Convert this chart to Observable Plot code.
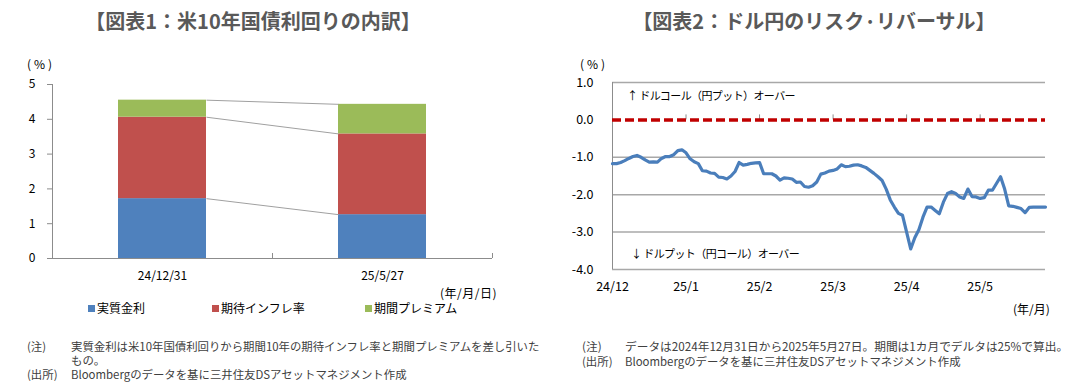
<!DOCTYPE html>
<html>
<head>
<meta charset="utf-8">
<script src="https://cdn.jsdelivr.net/npm/d3@7"></script>
<script src="https://cdn.jsdelivr.net/npm/@observablehq/plot@0.6"></script>
<style>
  html, body { margin: 0; padding: 0; background: #fff; }
  body { width: 1084px; height: 391px; position: relative; overflow: hidden;
         font-family: "Noto Sans CJK JP", "Noto Sans", sans-serif; color: #000; }
  .abs { position: absolute; white-space: nowrap; }
  .title { font-size: 20px; font-weight: bold; color: #595959; transform: translateX(-50%); top: 6px; }
  .lbl { font-size: 12px; color: #000; }
  .pct { letter-spacing: 3px; }
  .ann { font-size: 11px; letter-spacing: -0.6px; color: #000; }
  .note { font-size: 11.4px; color: #404040; line-height: 14px; }
  .sq { display: inline-block; width: 7px; height: 7px; margin-right: 2px; vertical-align: 1px; }
  #left, #right { position: absolute; top: 50px; }
  #left { left: 0; } #right { left: 560px; }
</style>
</head>
<body>
<div class="abs title" style="left:253px;">【図表1：米10年国債利回りの内訳】</div>
<div class="abs title" style="left:814px;">【図表2：ドル円のリスク·リバーサル】</div>

<div id="left"></div>
<div id="right"></div>

<div class="abs lbl pct" style="left:27px;top:55px;">(%)</div>
<div class="abs lbl" style="left:440px;top:284px;letter-spacing:0.5px;">(年/月/日)</div>
<div id="legend"></div>

<div class="abs lbl pct" style="left:580px;top:55px;">(%)</div>
<div class="abs lbl" style="left:1013px;top:300px;">(年/月)</div>
<div class="abs ann" style="left:627px;top:87px;">↑ ドルコール（円プット）オーバー</div>
<div class="abs ann" style="left:631px;top:245px;">↓ ドルプット（円コール）オーバー</div>

<div class="abs note" style="left:27px;top:339px;">(注)</div>
<div class="abs note" style="left:71px;top:339px;">実質金利は米10年国債利回りから期間10年の期待インフレ率と期間プレミアムを差し引いた</div>
<div class="abs note" style="left:71px;top:353px;">もの。</div>
<div class="abs note" style="left:27px;top:367px;">(出所)</div>
<div class="abs note" style="left:71px;top:367px;">Bloombergのデータを基に三井住友DSアセットマネジメント作成</div>

<div class="abs note" style="left:582px;top:339px;font-size:11.7px;">(注)</div>
<div class="abs note" style="left:625px;top:339px;font-size:11.7px;">データは2024年12月31日から2025年5月27日。期間は1カ月でデルタは25%で算出。</div>
<div class="abs note" style="left:582px;top:354px;">(出所)</div>
<div class="abs note" style="left:625px;top:354px;">Bloombergのデータを基に三井住友DSアセットマネジメント作成</div>

<script>
// ---------- Chart 1 data ----------
const categories = ["24/12/31", "25/5/27"];
const seriesNames = ["実質金利", "期待インフレ率", "期間プレミアム"];
const seriesColors = ["#4f81bd", "#c0504d", "#9bbb59"];
const realRate = [1.72, 1.26];
const expectedInflation = [2.34, 2.32];
const termPremium = [0.49, 0.85];
const leftYTicks = [0, 1, 2, 3, 4, 5];

// ---------- Chart 2 data ----------
const rrTickLabels = ["24/12", "25/1", "25/2", "25/3", "25/4", "25/5"];
const rrTickStep = 18;
const riskReversal = [
  -1.17, -1.17, -1.14, -1.09, -1.03, -0.98, -0.95, -1.00, -1.07, -1.13,
  -1.12, -1.13, -1.03, -0.98, -0.98, -0.93, -0.82, -0.80, -0.88, -1.04,
  -1.12, -1.17, -1.36, -1.37, -1.42, -1.43, -1.53, -1.54, -1.58, -1.50,
  -1.38, -1.14, -1.21, -1.19, -1.16, -1.15, -1.14, -1.44, -1.44, -1.44,
  -1.50, -1.61, -1.55, -1.56, -1.58, -1.67, -1.66, -1.78, -1.80, -1.76,
  -1.66, -1.45, -1.42, -1.37, -1.35, -1.31, -1.20, -1.25, -1.24, -1.21,
  -1.20, -1.23, -1.27, -1.35, -1.43, -1.52, -1.62, -1.85, -2.14, -2.33,
  -2.50, -2.55, -3.00, -3.45, -3.15, -2.94, -2.60, -2.33, -2.33, -2.42,
  -2.51, -2.20, -1.97, -1.92, -1.97, -2.06, -2.10, -1.85, -2.05, -2.06,
  -2.10, -2.08, -1.88, -1.88, -1.70, -1.52, -1.85, -2.30, -2.31, -2.34,
  -2.37, -2.48, -2.34, -2.33, -2.33, -2.33, -2.33
];
const rrYTicks = [1, 0, -1, -2, -3, -4];

// ---------- Build chart 1 table ----------
const seriesValues = [realRate, expectedInflation, termPremium];
const segments = [];
categories.forEach((c, i) => {
  let base = 0;
  seriesValues.forEach((vals, k) => {
    segments.push({ i, series: seriesNames[k], color: seriesColors[k], y1: base, y2: base + vals[i] });
    base += vals[i];
  });
});
const barHalf = 0.2;
const seriesLinks = [];
for (let i = 0; i < categories.length - 1; i++) {
  seriesNames.forEach((s) => {
    const a = segments.find(d => d.i === i && d.series === s);
    const b = segments.find(d => d.i === i + 1 && d.series === s);
    seriesLinks.push({ x1: i + barHalf, x2: i + 1 - barHalf, y1: a.y2, y2: b.y2 });
  });
}
const catBounds = d3.range(categories.length + 1).map(i => i - 0.5);

const fontStyle = { fontFamily: '"Noto Sans CJK JP", "Noto Sans", sans-serif', fontSize: "12px", color: "#000", background: "transparent" };

const left = Plot.plot({
  width: 540, height: 250,
  marginTop: 34, marginBottom: 42, marginLeft: 52, marginRight: 48,
  style: fontStyle,
  x: { type: "linear", domain: [-0.5, categories.length - 0.5] },
  y: { domain: [0, 5] },
  marks: [
    Plot.rect(segments, { x1: d => d.i - barHalf, x2: d => d.i + barHalf, y1: "y1", y2: "y2", fill: "color" }),
    Plot.link(seriesLinks, { x1: "x1", x2: "x2", y1: "y1", y2: "y2", stroke: "#a0a0a0", strokeWidth: 1 }),
    Plot.ruleX([catBounds[0]], { stroke: "#8c8c8c" }),
    Plot.ruleY([0], { stroke: "#8c8c8c" }),
    Plot.ruleX(catBounds, { y1: 0, y2: 0, insetTop: -5, stroke: "#8c8c8c" }),
    Plot.axisY({ ticks: leftYTicks, tickFormat: d => String(d), tickSize: 5, tickPadding: 12, label: null, stroke: "#8c8c8c" }),
    Plot.axisX({ ticks: d3.range(categories.length), tickFormat: i => categories[i], tickSize: 0, tickPadding: 13, label: null })
  ]
});
document.getElementById("left").appendChild(left);

// legend
const legend = document.getElementById("legend");
const legendX = [88, 212, 365];
seriesNames.forEach((s, k) => {
  const el = document.createElement("div");
  el.className = "abs lbl";
  el.style.left = legendX[k] + "px";
  el.style.top = "299px";
  el.innerHTML = `<span class="sq" style="background:${seriesColors[k]}"></span>${s}`;
  legend.appendChild(el);
});

// ---------- Chart 2 ----------
const rrData = riskReversal.map((v, i) => ({ i, v }));
const lastIdx = riskReversal.length - 1;
const rrTickIdx = rrTickLabels.map((_, k) => k * rrTickStep);

const right = Plot.plot({
  width: 524, height: 250,
  marginTop: 32, marginBottom: 31, marginLeft: 52, marginRight: 39,
  style: { ...fontStyle, fontSize: "12.5px" },
  x: { type: "linear", domain: [0, lastIdx] },
  y: { domain: [-4, 1] },
  marks: [
    Plot.ruleY(rrYTicks.filter(t => t !== 0), { stroke: "#a8a8a8", strokeWidth: 1.5 }),
    Plot.ruleX([0], { stroke: "#8c8c8c" }),
    Plot.ruleX(rrTickIdx.slice(1), { y1: 0, y2: 0, insetTop: -5, stroke: "#8c8c8c" }),
    Plot.ruleY([0], { stroke: "#c00000", strokeWidth: 3.5, strokeDasharray: "9,4" }),
    Plot.lineY(rrData, { x: "i", y: "v", stroke: "#4a7ebb", strokeWidth: 3.2, strokeLinejoin: "round" }),
    Plot.axisY({ ticks: rrYTicks, tickFormat: d => d.toFixed(1), tickSize: 0, tickPadding: 19, label: null }),
    Plot.axisX({ ticks: rrTickIdx, tickFormat: i => rrTickLabels[i / rrTickStep], tickSize: 0, tickPadding: 13, label: null })
  ]
});
document.getElementById("right").appendChild(right);
</script>
</body>
</html>
